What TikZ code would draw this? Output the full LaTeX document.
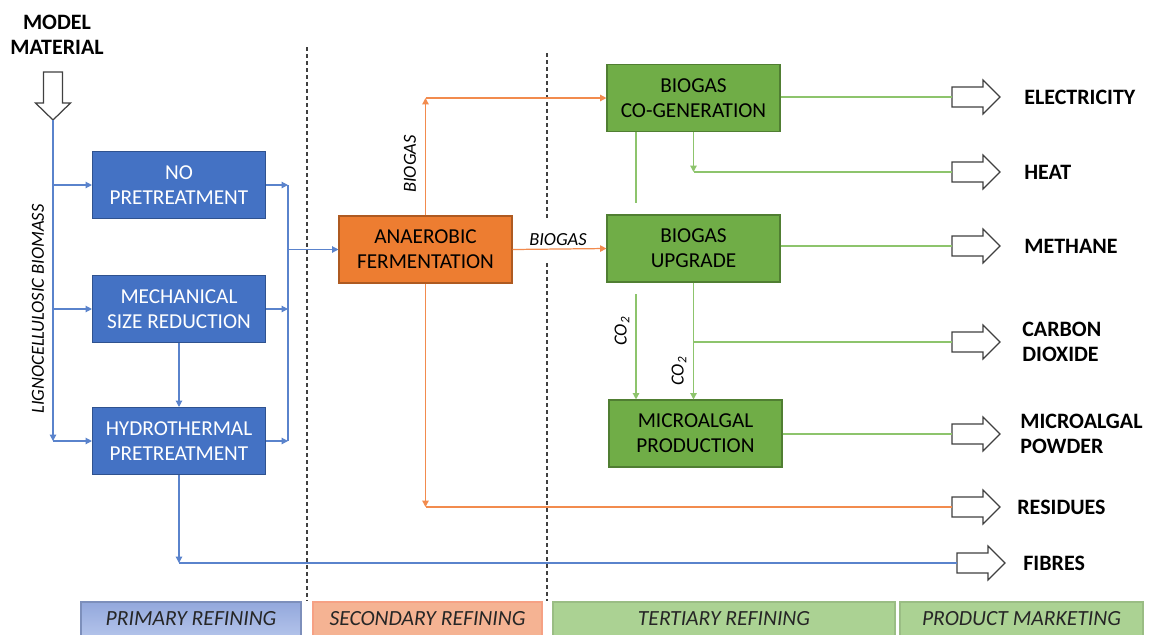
\documentclass[tikz,border=0pt]{standalone}
\usepackage{fontspec}
\setmainfont{Carlito}
\usepackage{tikz}
\usetikzlibrary{arrows.meta}

\definecolor{procblue}{HTML}{4472C4}
\definecolor{procblueline}{HTML}{2F528F}
\definecolor{procorange}{HTML}{ED7D31}
\definecolor{procorangeline}{HTML}{AE5A21}
\definecolor{procgreen}{HTML}{70AD47}
\definecolor{procgreenline}{HTML}{507E32}
\definecolor{flowblue}{HTML}{5A83CC}
\definecolor{floworange}{HTML}{F28B4E}
\definecolor{flowgreen}{HTML}{8DC46C}
\definecolor{sepgray}{HTML}{404040}
\definecolor{bartopblue}{HTML}{93A8DC}
\definecolor{barbotblue}{HTML}{B3C3EA}
\definecolor{barorange}{HTML}{F5B393}
\definecolor{bargreen}{HTML}{ABD293}

\begin{document}
\begin{tikzpicture}[x=0.2mm, y=-0.2mm, >={Triangle[length=3.6pt,width=3.6pt]}]
  \tikzstyle{proc} = [minimum width=34.6mm, minimum height=13.4mm, inner sep=0pt, align=center, line width=0.6pt, font=\fontsize{12.1}{14.3}\selectfont]
  \tikzstyle{blue box} = [proc, fill=procblue, draw=procblueline, text=white]
  \tikzstyle{orange box} = [proc, fill=procorange, draw=procorangeline, text=black]
  \tikzstyle{green box} = [proc, fill=procgreen, draw=procgreenline, text=black]
  \tikzstyle{flowlabel} = [inner sep=1pt, font=\itshape\fontsize{10.5}{12}\selectfont]
  \tikzstyle{product} = [anchor=west, align=left, inner sep=0pt, font=\bfseries\fontsize{12.5}{14.3}\selectfont]
  \tikzstyle{hollow} = [draw=sepgray, fill=white, line width=0.7pt, line join=miter]
  \tikzstyle{bflow} = [draw=flowblue, line width=0.7pt, ->]
  \tikzstyle{bline} = [draw=flowblue, line width=0.7pt]
  \tikzstyle{oflow} = [draw=floworange, line width=0.7pt, ->]
  \tikzstyle{oline} = [draw=floworange, line width=0.7pt]
  \tikzstyle{gflow} = [draw=flowgreen, line width=0.7pt, ->]
  \tikzstyle{gline} = [draw=flowgreen, line width=0.7pt]
  \tikzstyle{separator} = [draw=sepgray, line width=0.8pt, dash pattern=on 0.8mm off 0.6mm]
  \tikzstyle{stage} = [minimum height=6.8mm, inner sep=0pt, line width=0.6pt, text=black!85, font=\itshape\fontsize{12.3}{14}\selectfont]

  \fill[white] (0,0) rectangle (1149,634);
  \useasboundingbox (0,0) rectangle (1149,634);

  % stage separators
  \draw[separator] (307,47) -- (307,601);
  \draw[separator] (547,53) -- (547,601);

  % input
  \node[product, anchor=center, align=center] (model) at (57,35) {MODEL\\MATERIAL};
  \draw[hollow] (43.5,72) -- (62.5,72) -- (62.5,103) -- (70.5,103) -- (53,120) -- (35.5,103) -- (43.5,103) -- cycle;
  \coordinate (modeltip) at (53,120);
  \coordinate (split) at (53,441);
  \node[flowlabel, rotate=90] (ligno) at (38,309) {LIGNOCELLULOSIC BIOMASS};

  % process boxes
  \node[blue box] (nopre) at (179,185) {NO\\PRETREATMENT};
  \node[blue box] (mech) at (179,309) {MECHANICAL\\SIZE REDUCTION};
  \node[blue box] (hydro) at (179,441) {HYDROTHERMAL\\PRETREATMENT};
  \node[orange box] (anaer) at (425.5,249.5) {ANAEROBIC\\FERMENTATION};
  \node[green box] (cogen) at (693.5,98) {BIOGAS\\CO-GENERATION};
  \node[green box] (upgr) at (693.5,248.5) {BIOGAS\\UPGRADE};
  \node[green box] (micro) at (695.5,433.5) {MICROALGAL\\PRODUCTION};

  % products
  \foreach \n/\x/\lx/\y/\t in {elec/952/1024/97/ELECTRICITY, heat/952/1024/172/HEAT, meth/952/1024/246/METHANE,
      carb/952/1022/342/{CARBON\\DIOXIDE}, mpow/952/1020/434/{MICROALGAL\\POWDER},
      resid/952/1017/507/RESIDUES, fibr/957/1023/563/FIBRES} {
    \coordinate (\n) at (\x,\y);
    \draw[hollow] (\n) ++(0,-10) -- ++(31,0) -- ++(0,-7) -- ++(17,17) -- ++(-17,17) -- ++(0,-7) -- ++(-31,0) -- cycle;
    \node[product] (\n lbl) at (\lx,\y) {\t};
  }

  % primary refining flows
  \draw[bflow] (modeltip) -- (split);
  \draw[bflow] (split) -- (hydro.west);
  \draw[bflow] (modeltip |- nopre.west) -- (nopre.west);
  \draw[bflow] (modeltip |- mech.west) -- (mech.west);
  \draw[bflow] (mech.south) -- (hydro.north);
  \coordinate (join) at (288,249.5);
  \draw[bflow] (nopre.east) -- (nopre.east -| join);
  \draw[bflow] (mech.east) -- (mech.east -| join);
  \draw[bflow] (hydro.east) -- (hydro.east -| join);
  \draw[bline] (nopre.east -| join) -- (hydro.east -| join);
  \draw[bflow] (join) -- (anaer.west);
  \draw[bflow] (hydro.south) -- (hydro.south |- fibr);
  \draw[bline] (hydro.south |- fibr) -- (fibr);

  % secondary refining flows
  \node[flowlabel, rotate=90] (biogas up) at (410,164) {BIOGAS};
  \node[flowlabel, fill=white, minimum height=8mm] (biogas right) at (558,240) {BIOGAS};
  \draw[oflow] (anaer.north) -- (anaer.north |- cogen.west);
  \draw[oflow] (anaer.north |- cogen.west) -- (cogen.west);
  \draw[oflow] (anaer.east) -- (upgr.west);
  \draw[oflow] (anaer.south) -- (anaer.south |- resid);
  \draw[oline] (anaer.south |- resid) -- (resid);

  % tertiary refining flows
  \coordinate (co2top) at (636,203);
  \coordinate (co2bot) at (636,294);
  \draw[gline] (elec -| cogen.east) -- (elec);
  \draw[gflow] (cogen.south) -- (cogen.south |- heat);
  \draw[gline] (cogen.south |- heat) -- (heat);
  \draw[gline] (co2top |- cogen.south) -- (co2top);
  \draw[gflow] (co2bot) -- (co2bot |- micro.north);
  \node[flowlabel, rotate=90] (co2 left) at (622,331) {CO\textsubscript{2}};
  \draw[gline] (meth -| upgr.east) -- (meth);
  \draw[gflow] (upgr.south) -- (upgr.south |- micro.north);
  \draw[gline] (upgr.south |- carb) -- (carb);
  \node[flowlabel, rotate=90] (co2 right) at (679,371) {CO\textsubscript{2}};
  \draw[gline] (mpow -| micro.east) -- (mpow);

  % stage bars
  \node[stage, top color=bartopblue, bottom color=barbotblue, draw=bartopblue!85!black, minimum width=44mm] (primary) at (191,619) {PRIMARY REFINING};
  \node[stage, fill=barorange, draw=barorange!90!red, minimum width=45.8mm] (secondary) at (427.5,619) {SECONDARY REFINING};
  \node[stage, fill=bargreen, draw=bargreen!90!black, minimum width=68.4mm] (tertiary) at (724,619) {TERTIARY REFINING};
  \node[stage, fill=bargreen, draw=bargreen!90!black, minimum width=48.6mm] (marketing) at (1021.5,619) {PRODUCT MARKETING};
\end{tikzpicture}
\end{document}
